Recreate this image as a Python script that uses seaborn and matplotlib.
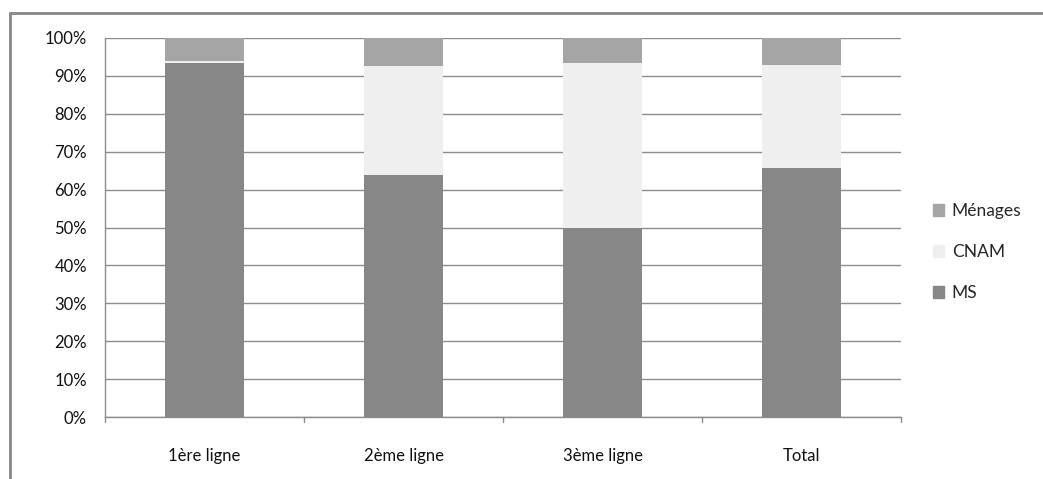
import matplotlib
matplotlib.use("Agg")
import matplotlib.pyplot as plt
from matplotlib.lines import Line2D
from matplotlib.ticker import PercentFormatter, MultipleLocator
import seaborn as sns
import pandas as pd

categories = ["1ère ligne", "2ème ligne", "3ème ligne", "Total"]
ms = [93.4, 63.9, 49.9, 65.6]
cnam = [0.4, 28.8, 43.4, 27.4]
menages = [6.2, 7.3, 6.7, 7.0]

series_names = ["MS", "CNAM", "Ménages"]
series_colors = {"MS": "#878787", "CNAM": "#efefef", "Ménages": "#a5a5a5"}

df = pd.DataFrame({"categorie": categories, "MS": ms, "CNAM": cnam, "Ménages": menages})

sns.set_style("white")
plt.rcParams["font.family"] = ["Lato", "DejaVu Sans"]

fig = plt.figure(figsize=(10.43, 4.79), dpi=100)
ax = fig.add_axes([0.1007, 0.1294, 0.7632, 0.7913])

bottom = [0.0] * len(categories)
handles = {}
for name in series_names:
    sns.barplot(data=df, x="categorie", y=name, color=series_colors[name],
                width=0.4, ax=ax, bottom=bottom, edgecolor="none",
                saturation=1, zorder=3, label=name)
    bottom = [b + v for b, v in zip(bottom, df[name])]
    handles[name] = plt.Rectangle((0, 0), 1, 1, color=series_colors[name])

ax.set_xlim(-0.5, len(categories) - 0.5)
ax.set_ylim(0, 100)
ax.yaxis.set_major_locator(MultipleLocator(10))
ax.yaxis.set_major_formatter(PercentFormatter(decimals=0))
ax.grid(axis="y", color="#8c8c8c", lw=1, zorder=0)
ax.set_xlabel("")
ax.set_ylabel("")

for side in ["top", "right"]:
    ax.spines[side].set_visible(False)
for side in ["left", "bottom"]:
    ax.spines[side].set_color("#8c8c8c")
    ax.spines[side].set_linewidth(1)

# category labels centred, boundary ticks between categories
ax.set_xticks(range(len(categories)))
ax.set_xticklabels(categories, fontsize=12, color="#111111")
ax.tick_params(axis="x", length=0, pad=22)
for xb in [i - 0.5 for i in range(len(categories) + 1)]:
    ax.plot([xb, xb], [0, -1.4], color="#8c8c8c", lw=1, clip_on=False, zorder=5)
ax.tick_params(axis="y", length=5, color="#8c8c8c", labelsize=12, labelcolor="#111111", pad=8)

legend_order = ["Ménages", "CNAM", "MS"]
ax.legend([handles[n] for n in legend_order], legend_order, loc="center left",
          bbox_to_anchor=(1.02, 0.435), frameon=False, fontsize=12.5,
          handlelength=0.65, handleheight=0.65, handletextpad=0.45, labelspacing=1.45)

# outer chart frame (top and left edges)
fig.add_artist(Line2D([10 / 1043, 1043 / 1043], [1 - 13 / 479, 1 - 13 / 479],
                      transform=fig.transFigure, color="#888888", lw=2))
fig.add_artist(Line2D([10 / 1043, 10 / 1043], [0, 1 - 13 / 479],
                      transform=fig.transFigure, color="#888888", lw=2))

fig.savefig("out.png", dpi=100)
